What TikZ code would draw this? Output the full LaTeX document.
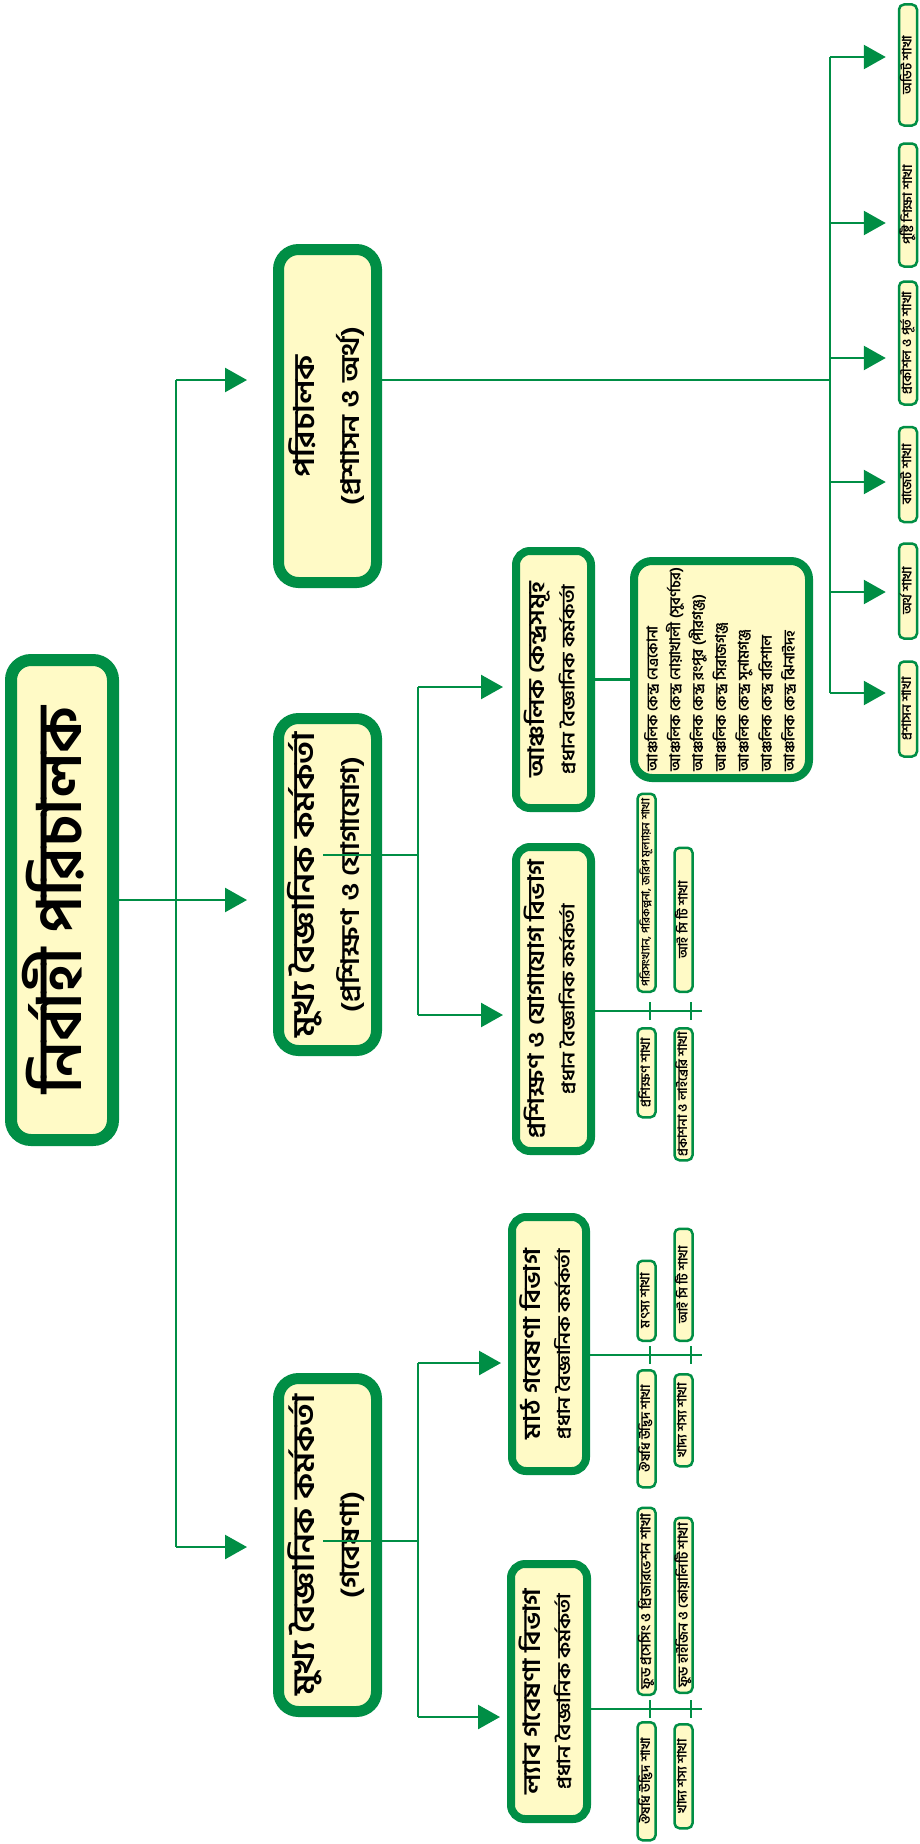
\documentclass[tikz,border=0pt]{standalone}
\usepackage{fontspec}
\newfontfamily\bangla[Script=Bengali]{Hind Siliguri}
\newfontfamily\banglaw[Script=Bengali, FakeStretch=1.15]{Hind Siliguri}
\usetikzlibrary{arrows.meta}
\definecolor{bdgreen}{RGB}{0,142,69}
\definecolor{bdyellow}{RGB}{255,250,198}
\newcommand{\vt}[1]{\rotatebox{90}{\begin{tabular}{@{}c@{}}#1\end{tabular}}}
\newcommand{\fitto}[2]{\resizebox{#1pt}{!}{#2}}
\tikzset{
  box/.style={draw=bdgreen, fill=bdyellow, inner sep=0pt, font=\banglaw\bfseries},
  big/.style={box, line width=11pt, rounded corners=20pt, minimum width=98pt, font=\banglaw\bfseries\fontsize{30}{45}\selectfont},
  dept/.style={box, line width=8pt, rounded corners=14pt, font=\banglaw\bfseries\fontsize{22}{30}\selectfont},
  leaf/.style={box, line width=2.5pt, rounded corners=5pt, minimum width=18pt, font=\bangla\bfseries\fontsize{13}{15}\selectfont},
  link/.style={draw=bdgreen, line width=2.5pt}
}
\begin{document}
\begin{tikzpicture}[x=1pt, y=-1pt, >={Triangle[length=22pt,width=24pt]}]
\useasboundingbox (0,0) rectangle (920,1844);

% top levels
\node[big, line width=12pt, minimum width=102pt, minimum height=480pt, font=\bangla\bfseries\fontsize{62}{70}\selectfont] (root) at (62,900) {\vt{\fitto{387}{নির্বাহী পরিচালক}}};
\node[big, minimum height=333pt] (adm) at (327.5,416) {\vt{\fitto{122}{পরিচালক}\\\fitto{178}{(প্রশাসন ও অর্থ)}}};
\node[big, minimum height=332pt] (tcc) at (327.5,884.5) {\vt{\fitto{305}{মুখ্য বৈজ্ঞানিক কর্মকর্তা}\\\fitto{255}{(প্রশিক্ষণ ও যোগাযোগ)}}};
\node[big, minimum height=333pt] (rsc) at (327.5,1545) {\vt{\fitto{301}{মুখ্য বৈজ্ঞানিক কর্মকর্তা}\\\fitto{106}{(গবেষণা)}}};

% departments
\node[dept, minimum width=75pt, minimum height=257pt] (reg) at (553.5,679.5) {\vt{\fitto{196}{আঞ্চলিক কেন্দ্রসমূহ}\\\fitto{189}{প্রধান বৈজ্ঞানিক কর্মকর্তা}}};
\node[dept, minimum width=75pt, minimum height=304pt] (tcd) at (553.5,999) {\vt{\fitto{278}{প্রশিক্ষণ ও যোগাযোগ বিভাগ}\\\fitto{190}{প্রধান বৈজ্ঞানিক কর্মকর্তা}}};
\node[dept, minimum width=74pt, minimum height=254pt] (fld) at (549,1344) {\vt{\fitto{190}{মাঠ গবেষণা বিভাগ}\\\fitto{190}{প্রধান বৈজ্ঞানিক কর্মকর্তা}}};
\node[dept, minimum width=76pt, minimum height=255pt] (lab) at (549,1691.5) {\vt{\fitto{206}{ল্যাব গবেষণা বিভাগ}\\\fitto{196}{প্রধান বৈজ্ঞানিক কর্মকর্তা}}};
\node[dept, rounded corners=18pt, minimum width=175pt, minimum height=217pt, font=\bangla\bfseries\fontsize{15}{23}\selectfont] (rgl) at (721.5,669.5) {\rotatebox{90}{\resizebox*{203pt}{160pt}{\begin{tabular}{@{}l@{}}আঞ্চলিক কেন্দ্র নেত্রকোনা\\আঞ্চলিক কেন্দ্র নোয়াখালী (সুবর্ণচর)\\আঞ্চলিক কেন্দ্র রংপুর (পীরগঞ্জ)\\আঞ্চলিক কেন্দ্র সিরাজগঞ্জ\\আঞ্চলিক কেন্দ্র সুনামগঞ্জ\\আঞ্চলিক কেন্দ্র বরিশাল\\আঞ্চলিক কেন্দ্র ঝিনাইদহ\end{tabular}}}};

% admin branches
\node[leaf, minimum height=121pt] (a1) at (908,65) {\vt{অডিট শাখা}};
\node[leaf, minimum height=123pt] (a2) at (908,205) {\vt{পুষ্টি শিক্ষা শাখা}};
\node[leaf, minimum height=123pt] (a3) at (908,343) {\vt{প্রকৌশল ও পূর্ত শাখা}};
\node[leaf, minimum height=95pt] (a4) at (908,474.5) {\vt{বাজেট শাখা}};
\node[leaf, minimum height=95pt] (a5) at (908,591) {\vt{অর্থ শাখা}};
\node[leaf, minimum height=95pt] (a6) at (908,709) {\vt{প্রশাসন শাখা}};

% training branches
\node[leaf, anchor=south, minimum height=198pt] (t1) at (646.5,993) {\vt{\fitto{188}{পরিসংখ্যান, পরিকল্পনা, জরিপ মূল্যায়ন শাখা}}};
\node[leaf, anchor=south, minimum height=144pt] (t2) at (683.5,993) {\vt{আই সি টি শাখা}};
\node[leaf, anchor=north, minimum height=89pt] (t3) at (646.5,1027) {\vt{প্রশিক্ষণ শাখা}};
\node[leaf, anchor=north, minimum height=132pt] (t4) at (683.5,1027) {\vt{প্রকাশনা ও লাইব্রেরি শাখা}};

% field branches
\node[leaf, anchor=south, minimum height=80pt] (f1) at (646.5,1342) {\vt{মৎস্য শাখা}};
\node[leaf, anchor=south, minimum height=112pt] (f2) at (683.5,1342) {\vt{আই সি টি শাখা}};
\node[leaf, anchor=north, minimum height=117pt] (f3) at (646.5,1369) {\vt{ঔষধি উদ্ভিদ শাখা}};
\node[leaf, anchor=north, minimum height=92pt] (f4) at (683.5,1373) {\vt{খাদ্য শস্য শাখা}};

% lab branches
\node[leaf, anchor=south, minimum height=187pt] (l1) at (646.5,1696) {\vt{\fitto{176}{ফুড প্রসেসিং ও প্রিজারভেশন শাখা}}};
\node[leaf, anchor=south, minimum height=175pt] (l2) at (683.5,1694) {\vt{\fitto{164}{ফুড হাইজিন ও কোয়ালিটি শাখা}}};
\node[leaf, anchor=north, minimum height=118pt] (l3) at (646.5,1721) {\vt{ঔষধি উদ্ভিদ শাখা}};
\node[leaf, anchor=north, minimum height=104pt] (l4) at (683.5,1723) {\vt{খাদ্য শস্য শাখা}};

% trunk
\coordinate (top) at (176,380);
\coordinate (bot) at (176,1547);
\draw[link] (top) -- (bot);
\draw[link,->,shorten >=26pt] (top) -- (top -| adm.west);
\draw[link,->,shorten >=26pt] (root.east) -- (root.east -| tcc.west);
\draw[link,->,shorten >=26pt] (bot) -- (bot -| rsc.west);

% admin bus
\coordinate (bus) at (830,380);
\draw[link] (adm.east |- bus) -- (bus);
\draw[link] (830,57) -- (830,693);
\foreach \n/\y in {a1/57,a2/223,a3/358,a4/482,a5/592,a6/693}
  \draw[link,->,shorten >=12pt] (830,\y) -- (\n.west |- 830,\y);

% chief links
\coordinate (cT) at (418,855);
\coordinate (cR) at (418,1541);
\draw[link] (323,855) -- (cT);
\draw[link] (418,687) -- (418,1015);
\draw[link,->,shorten >=9pt] (418,687) -- (reg.west |- 418,687);
\draw[link,->,shorten >=9pt] (418,1015) -- (tcd.west |- 418,1015);
\draw[link] (323,1541) -- (cR);
\draw[link] (418,1363) -- (418,1717);
\draw[link,->,shorten >=7pt] (418,1363) -- (fld.west |- 418,1363);
\draw[link,->,shorten >=7pt] (418,1717) -- (lab.west |- 418,1717);
\draw[link] (reg.east) -- (reg.east -| rgl.west);

% department lines and ticks
\foreach \n/\y in {tcd/1011,fld/1355,lab/1709}{
  \draw[link] (\n.east |- 702,\y) -- (702,\y);
  \foreach \x in {650,691}
    \draw[link] (\x,\y-9) -- (\x,\y+9);
}
\end{tikzpicture}
\end{document}
